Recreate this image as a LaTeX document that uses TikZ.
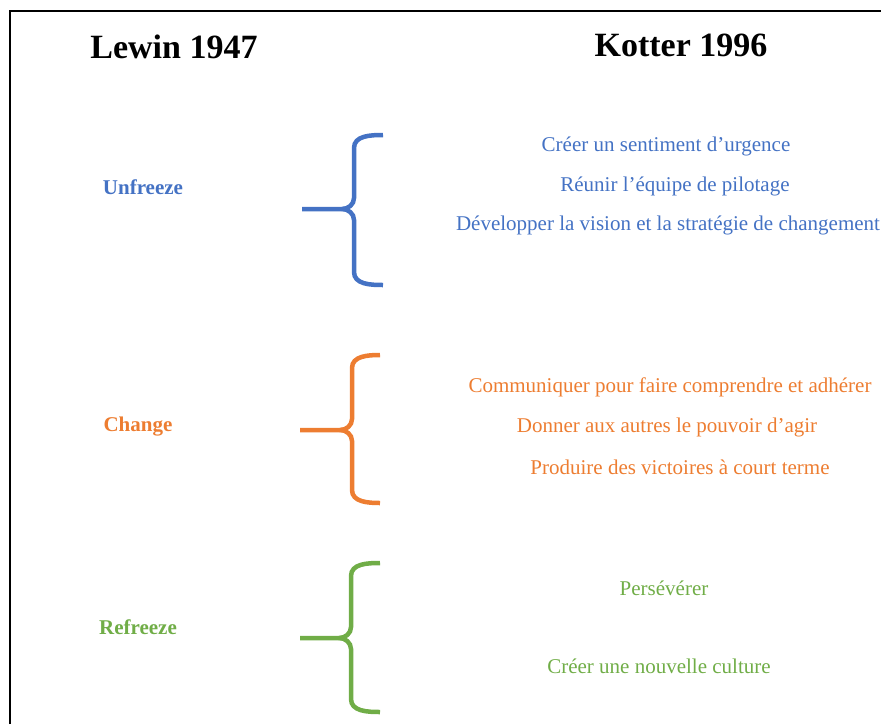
\documentclass[tikz,border=0pt]{standalone}
\usepackage{fontspec}
\setmainfont{Liberation Serif}
\usetikzlibrary{positioning}
\definecolor{ublue}{HTML}{4472C4}
\definecolor{corange}{HTML}{ED7D31}
\definecolor{rgreen}{HTML}{70AD47}

\tikzset{
  title/.style={font=\fontsize{34}{40}\selectfont\bfseries},
  stage/.style={font=\fontsize{21}{25}\selectfont\bfseries},
  kstep/.style={font=\fontsize{21}{25}\selectfont},
  brace/.style={line width=4.5pt}
}

\begin{document}
\begin{tikzpicture}[x=1pt,y=-1pt]
\useasboundingbox (0,0) rectangle (881,724);

\draw[line width=1.6pt] (10,724) -- (10,11) -- (881,11);

\node[title] (lewin) at (174,47) {Lewin 1947};
\node[title] (kotter) at (681,45) {Kotter 1996};

%unfreeze
\node[stage,text=ublue] (unfreeze) at (143,187) {Unfreeze};
\draw[brace,draw=ublue] (383,135) to[out=180,in=90] (354,148) -- (354,198) to[out=-90,in=0] (342,209) -- (302,209);
\draw[brace,draw=ublue] (383,285) to[out=180,in=-90] (354,272) -- (354,220) to[out=90,in=0] (342,209);
\node[kstep,text=ublue] (u1) at (666,146) {Créer un sentiment d’urgence};
\node[kstep,text=ublue] (u2) at (675,186) {Réunir l’équipe de pilotage};
\node[kstep,text=ublue] (u3) at (668,225) {Développer la vision et la stratégie de changement};

%change
\node[stage,text=corange] (change) at (138,427) {Change};
\draw[brace,draw=corange] (380,355) to[out=180,in=90] (352,368) -- (352,419) to[out=-90,in=0] (340,430) -- (300,430);
\draw[brace,draw=corange] (380,503) to[out=180,in=-90] (352,490) -- (352,441) to[out=90,in=0] (340,430);
\node[kstep,text=corange] (c1) at (670,387) {Communiquer pour faire comprendre et adhérer};
\node[kstep,text=corange] (c2) at (667,427) {Donner aux autres le pouvoir d’agir};
\node[kstep,text=corange] (c3) at (680,467) {Produire des victoires à court terme};

%refreeze
\node[stage,text=rgreen] (refreeze) at (138,627) {Refreeze};
\draw[brace,draw=rgreen] (380,563) to[out=180,in=90] (351,576) -- (351,627) to[out=-90,in=0] (339,638) -- (300,638);
\draw[brace,draw=rgreen] (380,712) to[out=180,in=-90] (351,699) -- (351,649) to[out=90,in=0] (339,638);
\node[kstep,text=rgreen] (r1) at (664,588) {Persévérer};
\node[kstep,text=rgreen] (r2) at (659,666) {Créer une nouvelle culture};

\end{tikzpicture}
\end{document}
